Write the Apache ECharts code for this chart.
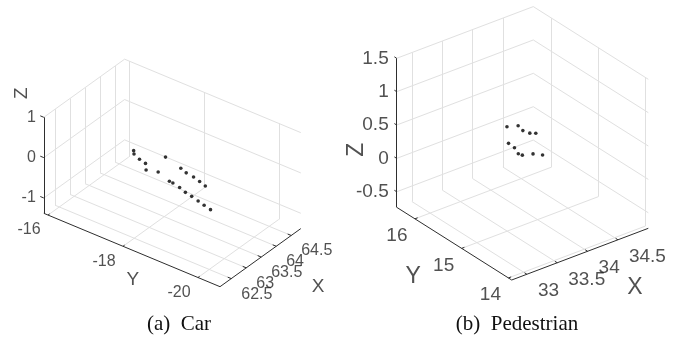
<!DOCTYPE html>
<html>
<head>
<meta charset="utf-8">
<script src="https://cdn.jsdelivr.net/npm/echarts@6/dist/echarts.min.js"></script>
<style>html,body{margin:0;padding:0;background:#fff}#c{width:690px;height:337px}</style>
</head>
<body>
<div id="c"></div>
<script>
// ---- Panel (a) Car: 3D points ----
const carX = [63.43,63.43,63.25,63.20,63.37,63.46,63.63,63.49,63.42,63.39,63.33,63.27,63.56,63.55,63.50,63.43,63.39,63.33,63.28,63.23];
const carY = [-17.24,-17.25,-17.54,-17.74,-17.62,-17.87,-17.93,-18.45,-18.65,-18.87,-19.08,-19.28,-18.09,-18.19,-18.41,-18.62,-18.82,-19.04,-19.24,-19.45];
const carZ = [0,-0.08,0,0,-0.3,-0.3,0,0,0,0,0,0,-0.5,-0.5,-0.5,-0.5,-0.5,-0.5,-0.5,-0.5];
const carXTicks = [62.5,63,63.5,64,64.5];
const carYTicks = [-16,-18,-20];
const carZTicks = [-1,0,1];

// ---- Panel (b) Pedestrian: 3D points ----
const pedX = [33.75,33.88,33.85,33.88,33.94,33.93,33.92,33.86,33.88,34.01,34.09];
const pedY = [15.33,15.26,15.12,15.01,14.96,15.53,15.39,15.23,15.17,15.11,15.01];
const pedZ = [0.6,0.6,0.6,0.6,0.6,0.2,0.2,0.2,0.2,0.2,0.2];
const pedXTicks = [33,33.5,34,34.5];
const pedYTicks = [14,15,16];
const pedZTicks = [-0.5,0,0.5,1,1.5];

const captions = ['(a)  Car', '(b)  Pedestrian'];

// view / layout configuration (screen placement of the 3D boxes)
const panels = [
  { xs: carX, ys: carY, zs: carZ, xt: carXTicks, yt: carYTicks, zt: carZTicks,
    lim: { x0: 62.125, x1: 64.82, y0: -20.587, y1: -15.887, z0: -1.38, z1: 1 },
    A: [43.8, 213.3], B: [220, 286.7], C: [300.8, 228.6], H: 96,
    fs: 16, tfs: 19,
    zOff: [-8, 0], yOff: [-19, 15], xOff: [10, 15.5],
    zTitle: [-22, -24], yTitle: [1, 30], xTitle: [57.6, 29.4] },
  { xs: pedX, ys: pedY, zs: pedZ, xt: pedXTicks, yt: pedYTicks, zt: pedZTicks,
    lim: { x0: 32.75, x1: 35.0, y0: 13.93, y1: 16.39, z0: -0.733, z1: 1.5 },
    A: [396.7, 207.3], B: [511.7, 280], C: [648.3, 228.3], H: 149,
    fs: 19, tfs: 23,
    zOff: [-8, 0], yOff: [-18, 17], xOff: [11, 16.5],
    zTitle: [-40, 17], yTitle: [-41, 33], xTitle: [55, 34] }
];

function proj(p, x, y, z) {
  const L = p.lim;
  const fx = (x - L.x0) / (L.x1 - L.x0);
  const fy = (L.y1 - y) / (L.y1 - L.y0);
  const fz = (z - L.z0) / (L.z1 - L.z0);
  return [
    p.A[0] + fx * (p.C[0] - p.B[0]) + fy * (p.B[0] - p.A[0]),
    p.A[1] + fx * (p.C[1] - p.B[1]) + fy * (p.B[1] - p.A[1]) - fz * p.H
  ];
}

const gridLines = [], axisLines = [], points = [], labels = [];
const txtColor = '#262626';
panels.forEach(p => {
  const L = p.lim;
  const seg = (arr, a, b) => arr.push({ coords: [proj(p, a[0], a[1], a[2]), proj(p, b[0], b[1], b[2])] });
  // floor grid
  p.xt.forEach(t => seg(gridLines, [t, L.y0, L.z0], [t, L.y1, L.z0]));
  p.yt.forEach(t => seg(gridLines, [L.x0, t, L.z0], [L.x1, t, L.z0]));
  // back wall y = y1
  p.xt.forEach(t => seg(gridLines, [t, L.y1, L.z0], [t, L.y1, L.z1]));
  p.zt.forEach(t => seg(gridLines, [L.x0, L.y1, t], [L.x1, L.y1, t]));
  // back wall x = x1
  p.yt.forEach(t => seg(gridLines, [L.x1, t, L.z0], [L.x1, t, L.z1]));
  p.zt.forEach(t => seg(gridLines, [L.x1, L.y0, t], [L.x1, L.y1, t]));
  // axes
  seg(axisLines, [L.x0, L.y1, L.z0], [L.x0, L.y1, L.z1]);
  seg(axisLines, [L.x0, L.y0, L.z0], [L.x0, L.y1, L.z0]);
  seg(axisLines, [L.x0, L.y0, L.z0], [L.x1, L.y0, L.z0]);
  const dx = 0.02 * (L.x1 - L.x0), dy = 0.02 * (L.y1 - L.y0);
  p.zt.forEach(t => seg(axisLines, [L.x0, L.y1, t], [L.x0, L.y1 + dy, t]));
  p.yt.forEach(t => seg(axisLines, [L.x0, t, L.z0], [L.x0 + dx, t, L.z0]));
  p.xt.forEach(t => seg(axisLines, [t, L.y0, L.z0], [t, L.y0 + dy, L.z0]));
  // points
  p.xs.forEach((x, i) => points.push(proj(p, x, p.ys[i], p.zs[i])));
  // tick labels
  const lab = (pt, text, off, align, fs, rot) => labels.push({
    value: pt,
    label: { show: true, formatter: text, position: 'inside',
             // label offsets are applied in the rotated frame
             offset: rot ? [-off[1], off[0]] : off, align: align,
             verticalAlign: 'middle', fontSize: fs, color: txtColor,
             fontFamily: 'Liberation Sans, Arial, sans-serif', rotate: rot || 0 }
  });
  p.zt.forEach(t => lab(proj(p, L.x0, L.y1, t), String(t), p.zOff, 'right', p.fs));
  p.yt.forEach(t => lab(proj(p, L.x0, t, L.z0), String(t), p.yOff, 'center', p.fs));
  p.xt.forEach(t => lab(proj(p, t, L.y0, L.z0), String(t), p.xOff, 'left', p.fs));
  // axis titles
  const zAnchor = p === panels[0] ? proj(p, L.x0, L.y1, L.z1) : proj(p, L.x0, L.y1, (L.z0 + L.z1) / 2);
  lab(zAnchor, 'Z', p.zTitle, 'center', p.tfs, 90);
  lab(proj(p, L.x0, (L.y0 + L.y1) / 2, L.z0), 'Y', p.yTitle, 'center', p.tfs);
  lab(proj(p, (L.x0 + L.x1) / 2, L.y0, L.z0), 'X', p.xTitle, 'center', p.tfs);
});

const chart = echarts.init(document.getElementById('c'), null, { renderer: 'canvas' });
chart.setOption({
  animation: false,
  backgroundColor: '#fff',
  title: [
    { text: captions[0], left: 174, top: 309, textAlign: 'center',
      textStyle: { fontFamily: 'Liberation Serif, Times New Roman, serif', fontWeight: 'normal', fontSize: 21, color: '#111' } },
    { text: captions[1], left: 512, top: 309, textAlign: 'center',
      textStyle: { fontFamily: 'Liberation Serif, Times New Roman, serif', fontWeight: 'normal', fontSize: 21, color: '#111' } }
  ],
  grid: { left: 0, right: 0, top: 0, bottom: 0 },
  xAxis: { type: 'value', min: 0, max: 690, show: false },
  yAxis: { type: 'value', min: 0, max: 337, inverse: true, show: false },
  series: [
    { type: 'lines', coordinateSystem: 'cartesian2d', silent: true, z: 1,
      lineStyle: { color: '#e0e0e0', width: 1, opacity: 1 }, data: gridLines },
    { type: 'lines', coordinateSystem: 'cartesian2d', silent: true, z: 2,
      lineStyle: { color: '#2e2e2e', width: 1, opacity: 1 }, data: axisLines },
    { type: 'scatter', symbol: 'circle', symbolSize: 3.6, z: 3,
      itemStyle: { color: '#000' }, data: points },
    { type: 'scatter', symbolSize: 0, z: 4, silent: true, data: labels }
  ]
});
</script>
</body>
</html>
